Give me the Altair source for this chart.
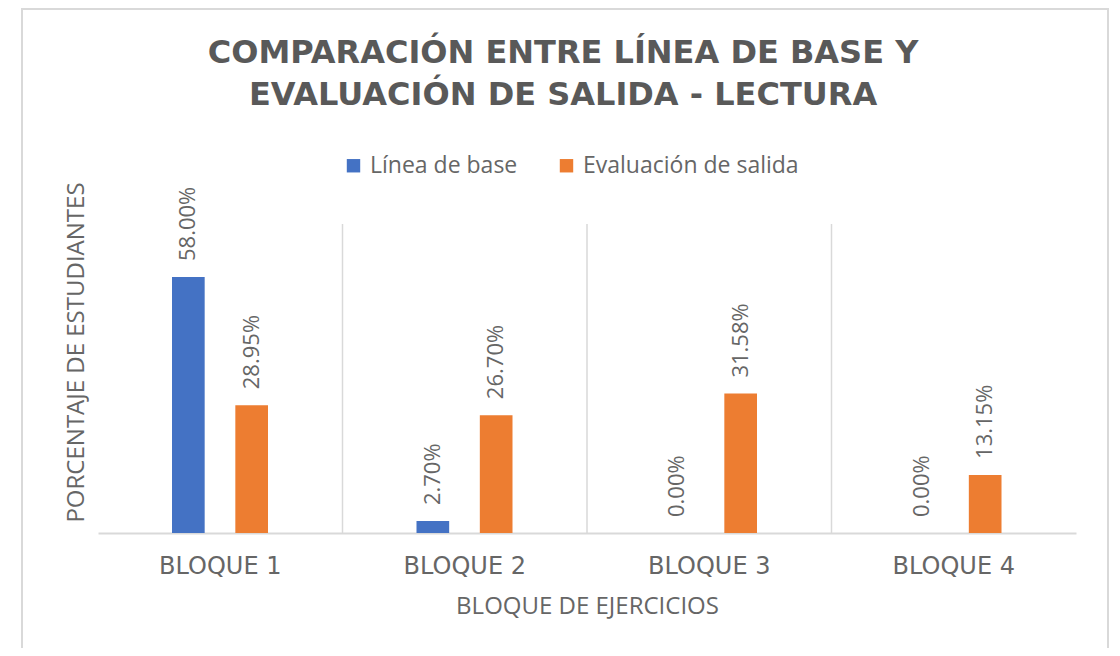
import altair as alt
import pandas as pd

bloques = ["BLOQUE 1", "BLOQUE 2", "BLOQUE 3", "BLOQUE 4"]
series = ["Línea de base", "Evaluación de salida"]
linea_base = [58.00, 2.70, 0.00, 0.00]
eval_salida = [28.95, 26.70, 31.58, 13.15]
colores = ["#4472C4", "#ED7D31"]

titulo = ["COMPARACIÓN ENTRE LÍNEA DE BASE Y", "EVALUACIÓN DE SALIDA - LECTURA"]
titulo_y = "PORCENTAJE DE ESTUDIANTES"
titulo_x = "BLOQUE DE EJERCICIOS"

rows = []
for i, b in enumerate(bloques):
    rows.append({"bloque": b, "serie": series[0], "valor": linea_base[i]})
    rows.append({"bloque": b, "serie": series[1], "valor": eval_salida[i]})
df = pd.DataFrame(rows)
df_cat = pd.DataFrame({"bloque": bloques})
df_sep = pd.DataFrame({"bloque": bloques[1:]})
df_frame = pd.DataFrame({"k": [0]})

W, H = 978, 309
GRAY = "#d9d9d9"
TXT = "#666666"

xscale = alt.Scale(domain=bloques, paddingInner=0, paddingOuter=0)
yscale = alt.Scale(domain=[0, 70])
xoff_scale = alt.Scale(domain=series, range=[74, 170], paddingInner=0.484, paddingOuter=0)

bars = alt.Chart(df).mark_bar().encode(
    x=alt.X("bloque:N", scale=xscale,
            axis=alt.Axis(labels=False, ticks=False, domainColor=GRAY, domainWidth=2,
                          title=titulo_x, titleFont="Open Sans", titleFontSize=24,
                          titleFontWeight="normal", titleColor=TXT,
                          titleY=73, titleBaseline="middle")),
    xOffset=alt.XOffset("serie:N", scale=xoff_scale, sort=series),
    y=alt.Y("valor:Q", scale=yscale,
            axis=alt.Axis(labels=False, ticks=False, domain=False, grid=False,
                          title=titulo_y, titleFont="Open Sans", titleFontSize=24,
                          titleFontWeight="normal", titleColor=TXT,
                          titleX=-22, titleY=128, titleAngle=270,
                          titleAlign="center", titleBaseline="middle")),
    color=alt.Color("serie:N", scale=alt.Scale(domain=series, range=colores),
                    legend=alt.Legend(title=None, orient="none", direction="horizontal",
                                      legendX=244, legendY=-70,
                                      symbolType="square", symbolSize=180,
                                      symbolStrokeWidth=0,
                                      labelFont="Open Sans", labelFontSize=23,
                                      labelColor=TXT, labelOffset=5,
                                      labelLimit=400, columnPadding=37)),
)

labels = alt.Chart(df).transform_calculate(
    etiqueta="format(datum.valor, '.2f') + '%'"
).mark_text(angle=270, align="left", baseline="middle", dx=16,
            font="Open Sans", fontSize=22, color=TXT).encode(
    x=alt.X("bloque:N", scale=xscale),
    xOffset=alt.XOffset("serie:N", scale=xoff_scale, sort=series),
    y=alt.Y("valor:Q", scale=yscale),
    text="etiqueta:N",
)

xlabels = alt.Chart(df_cat).mark_text(
    baseline="middle", font="DejaVu Sans", fontSize=24, color=TXT
).encode(
    x=alt.X("bloque:N", scale=xscale),
    y=alt.value(343),
    text="bloque:N",
)

seps = alt.Chart(df_sep).mark_rule(color=GRAY, strokeWidth=1.5).encode(
    x=alt.X("bloque:N", scale=xscale, bandPosition=0),
    y=alt.value(0),
    y2=alt.value(H),
)

frame = alt.Chart(df_frame).mark_rect(fillOpacity=0, stroke=GRAY, strokeWidth=2).encode(
    x=alt.value(-76), x2=alt.value(1010), y=alt.value(-215), y2=alt.value(460),
)

chart = alt.layer(frame, seps, bars, labels, xlabels).properties(
    width=W, height=H,
    autosize=alt.AutoSizeParams(type="none"),
    padding={"left": 90, "top": 216, "right": 36, "bottom": 115},
    title=alt.TitleParams(text=titulo, font="DejaVu Sans", fontSize=32,
                          fontWeight="bold", color="#595959", anchor="middle",
                          dx=-24, lineHeight=42, offset=-104),
).configure(background="white", view=alt.ViewConfig(stroke=None))

chart.save("out.html", embed_options={"renderer": "svg", "actions": False})
